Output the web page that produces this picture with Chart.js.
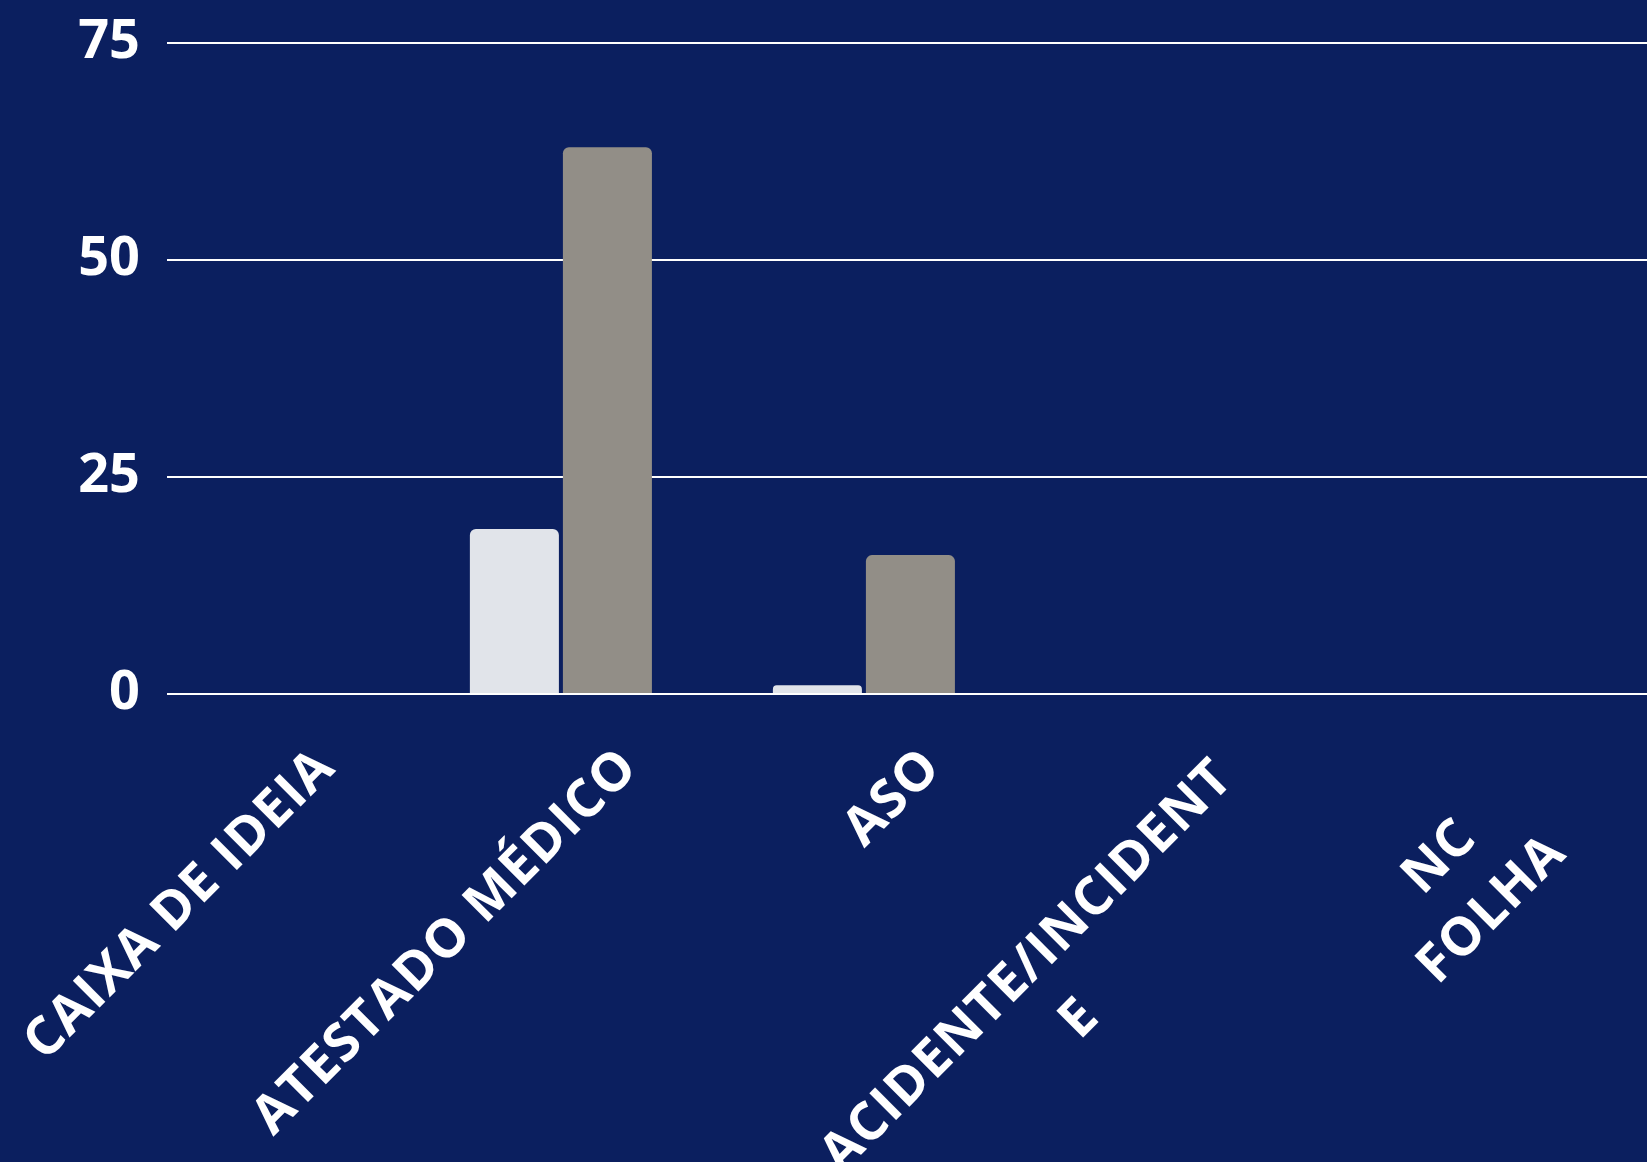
<!DOCTYPE html>
<html>
<head>
<meta charset="utf-8">
<script src="https://cdn.jsdelivr.net/npm/chart.js@4.4.1/dist/chart.umd.min.js"></script>
<style>
  html, body { margin: 0; padding: 0; background: #0b1f5f; overflow: hidden; }
  #wrap { position: absolute; left: 0; top: 0; width: 1682px; height: 1162px; }
</style>
</head>
<body>
<div id="wrap"><canvas id="ocorrenciasChart"></canvas></div>

<script>
  // categorias e valores
  var categorias = ['CAIXA DE IDEIA', 'ATESTADO MÉDICO', 'ASO', 'ACIDENTE/INCIDENTE', 'NC FOLHA'];
  var rotulos = [['CAIXA DE IDEIA'], ['ATESTADO MÉDICO'], ['ASO'], ['ACIDENTE/INCIDENT', 'E'], ['NC', 'FOLHA']];
  var serieClara = [0, 19, 1, 0, 0];
  var serieCinza = [0, 63, 16, 0, 0];
  var ticksY = [0, 25, 50, 75];

  var fonte = '"Open Sans", "DejaVu Sans", sans-serif';

  // desenha os rótulos do eixo x inclinados, com linhas centralizadas
  var rotulosPlugin = {
    id: 'rotulosX',
    afterDraw: function (chart) {
      var ctx = chart.ctx;
      var x = chart.scales.x;
      var area = chart.chartArea;
      var tam = 53;
      ctx.save();
      ctx.font = '700 ' + tam + 'px ' + fonte;
      ctx.letterSpacing = '1.2px';
      ctx.fillStyle = '#ffffff';
      ctx.textAlign = 'center';
      ctx.textBaseline = 'middle';
      rotulos.forEach(function (linhas, i) {
        var total = ctx.measureText(categorias[i]).width;
        ctx.save();
        ctx.translate(x.getPixelForValue(i) + 8, area.bottom + 65);
        ctx.rotate(-Math.PI / 4);
        linhas.forEach(function (linha, k) {
          ctx.fillText(linha, -total / 2, k * 74);
        });
        ctx.restore();
      });
      ctx.restore();
    }
  };

  var ctxOc = document.getElementById('ocorrenciasChart').getContext('2d');
  var ocorrenciasChart = new Chart(ctxOc, {
    type: 'bar',
    data: {
      labels: categorias,
      datasets: [{
        label: 'Série 1',
        data: serieClara.map(function (v, i) { return { x: i, y: v }; }),
        backgroundColor: '#e1e4ea',
        xAxisID: 'x2'
      }, {
        label: 'Série 2',
        data: serieCinza.map(function (v, i) { return { x: i, y: v }; }),
        backgroundColor: '#928e87',
        xAxisID: 'x2'
      }]
    },
    options: {
      responsive: true,
      maintainAspectRatio: false,
      animation: false,
      devicePixelRatio: 1,
      layout: { padding: { top: 43, right: 0, bottom: 468, left: 0 } },
      datasets: {
        bar: {
          categoryPercentage: 0.614,
          barPercentage: 0.957,
          borderRadius: 6,
          borderSkipped: 'bottom'
        }
      },
      plugins: {
        legend: { display: false },
        tooltip: { enabled: false }
      },
      scales: {
        x: { type: 'category', display: false },
        x2: {
          type: 'linear',
          display: false,
          offset: false,
          min: -0.3,
          max: 4.7,
          ticks: { stepSize: 1, includeBounds: false }
        },
        y: {
          min: ticksY[0],
          max: ticksY[ticksY.length - 1],
          afterBuildTicks: function (axis) {
            axis.ticks = ticksY.map(function (v) { return { value: v }; });
          },
          afterFit: function (axis) {
            axis.width = 167;
            axis.paddingTop = 0;
            axis.paddingBottom = 0;
          },
          border: { display: false },
          grid: { color: '#ffffff', lineWidth: 2, drawTicks: false },
          ticks: {
            color: '#ffffff',
            padding: 27,
            font: { family: fonte, size: 54, weight: 'bold' }
          }
        }
      }
    },
    plugins: [rotulosPlugin]
  });
</script>
</body>
</html>
